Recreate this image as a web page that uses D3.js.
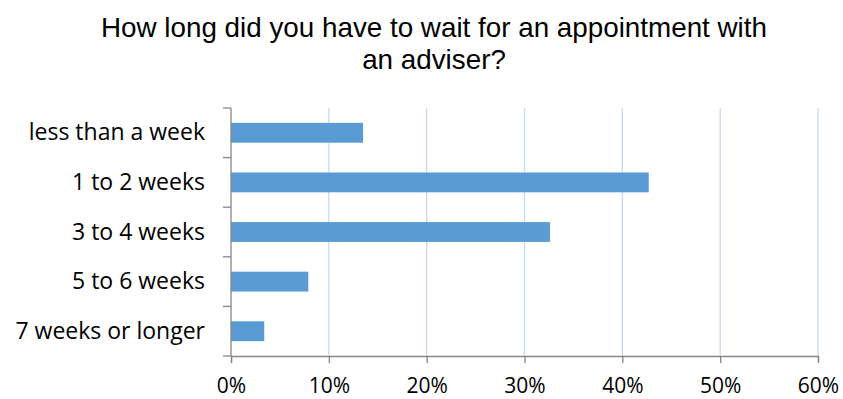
<!DOCTYPE html>
<html>
<head>
<meta charset="utf-8">
<script src="https://cdn.jsdelivr.net/npm/d3@7"></script>
<style>
  html, body { margin: 0; padding: 0; background: #fff; }
  svg { display: block; }
</style>
</head>
<body>
<svg id="chart" width="843" height="399"></svg>
<script>
// Survey answers and share of respondents (%)
const categories = ["less than a week", "1 to 2 weeks", "3 to 4 weeks", "5 to 6 weeks", "7 weeks or longer"];
const values = [13.5, 42.7, 32.6, 7.9, 3.4];
const tickValues = [0, 10, 20, 30, 40, 50, 60];
const titleLines = ["How long did you have to wait for an appointment with", "an adviser?"];

const svg = d3.select("#chart");
const margin = { left: 231, right: 25, top: 108, bottom: 43 };
const W = 843, H = 399;

const x = d3.scaleLinear().domain([0, 60]).range([margin.left, W - margin.right]);
const y = d3.scaleBand().domain(categories).range([margin.top, H - margin.bottom]).paddingInner(0.6).paddingOuter(0.3);
const yEdge = d3.scaleLinear().domain([0, categories.length]).range([margin.top, H - margin.bottom]);

// Title
svg.append("g").selectAll("text").data(titleLines).join("text")
  .attr("x", 434).attr("y", (d, i) => 37 + i * 32)
  .attr("text-anchor", "middle")
  .attr("font-family", "'Liberation Sans', Arial, sans-serif")
  .attr("font-size", 27.8).attr("fill", "#000")
  .text(d => d);

// Vertical gridlines
svg.append("g").selectAll("line").data(tickValues.slice(1)).join("line")
  .attr("x1", d => x(d)).attr("x2", d => x(d))
  .attr("y1", margin.top).attr("y2", H - margin.bottom)
  .attr("stroke", "#c6d9f1").attr("stroke-width", 1.3);

// Bars
svg.append("g").selectAll("rect").data(values).join("rect")
  .attr("x", x(0)).attr("y", (d, i) => y(categories[i]))
  .attr("width", d => x(d) - x(0)).attr("height", y.bandwidth())
  .attr("fill", "#5b9bd5");

const axisColor = "#868686";
const fontLabels = "'Open Sans', sans-serif";

// Category axis with ticks on band edges
const gy = svg.append("g");
gy.append("line").attr("x1", x(0)).attr("x2", x(0))
  .attr("y1", margin.top).attr("y2", H - margin.bottom)
  .attr("stroke", axisColor).attr("stroke-width", 1.3);
gy.selectAll("line.tick").data(d3.range(categories.length + 1)).join("line")
  .attr("class", "tick")
  .attr("x1", x(0) - 8).attr("x2", x(0))
  .attr("y1", d => yEdge(d)).attr("y2", d => yEdge(d))
  .attr("stroke", axisColor).attr("stroke-width", 1.3);
gy.selectAll("text").data(categories).join("text")
  .attr("x", 205).attr("y", d => y(d) + y.bandwidth() / 2 + 7.5)
  .attr("text-anchor", "end")
  .attr("font-family", fontLabels).attr("font-size", 23).attr("fill", "#000")
  .text(d => d);

// Value axis
const gx = svg.append("g").attr("transform", `translate(0,${H - margin.bottom})`)
  .call(d3.axisBottom(x).tickValues(tickValues).tickFormat(d => d + "%").tickSize(7));
gx.select(".domain").attr("stroke", axisColor).attr("stroke-width", 1.3);
gx.selectAll(".tick line").attr("stroke", axisColor).attr("stroke-width", 1.3);
gx.selectAll(".tick text")
  .attr("y", 37).attr("dy", null)
  .attr("font-family", fontLabels).attr("font-size", 21).attr("fill", "#000");
</script>
</body>
</html>
